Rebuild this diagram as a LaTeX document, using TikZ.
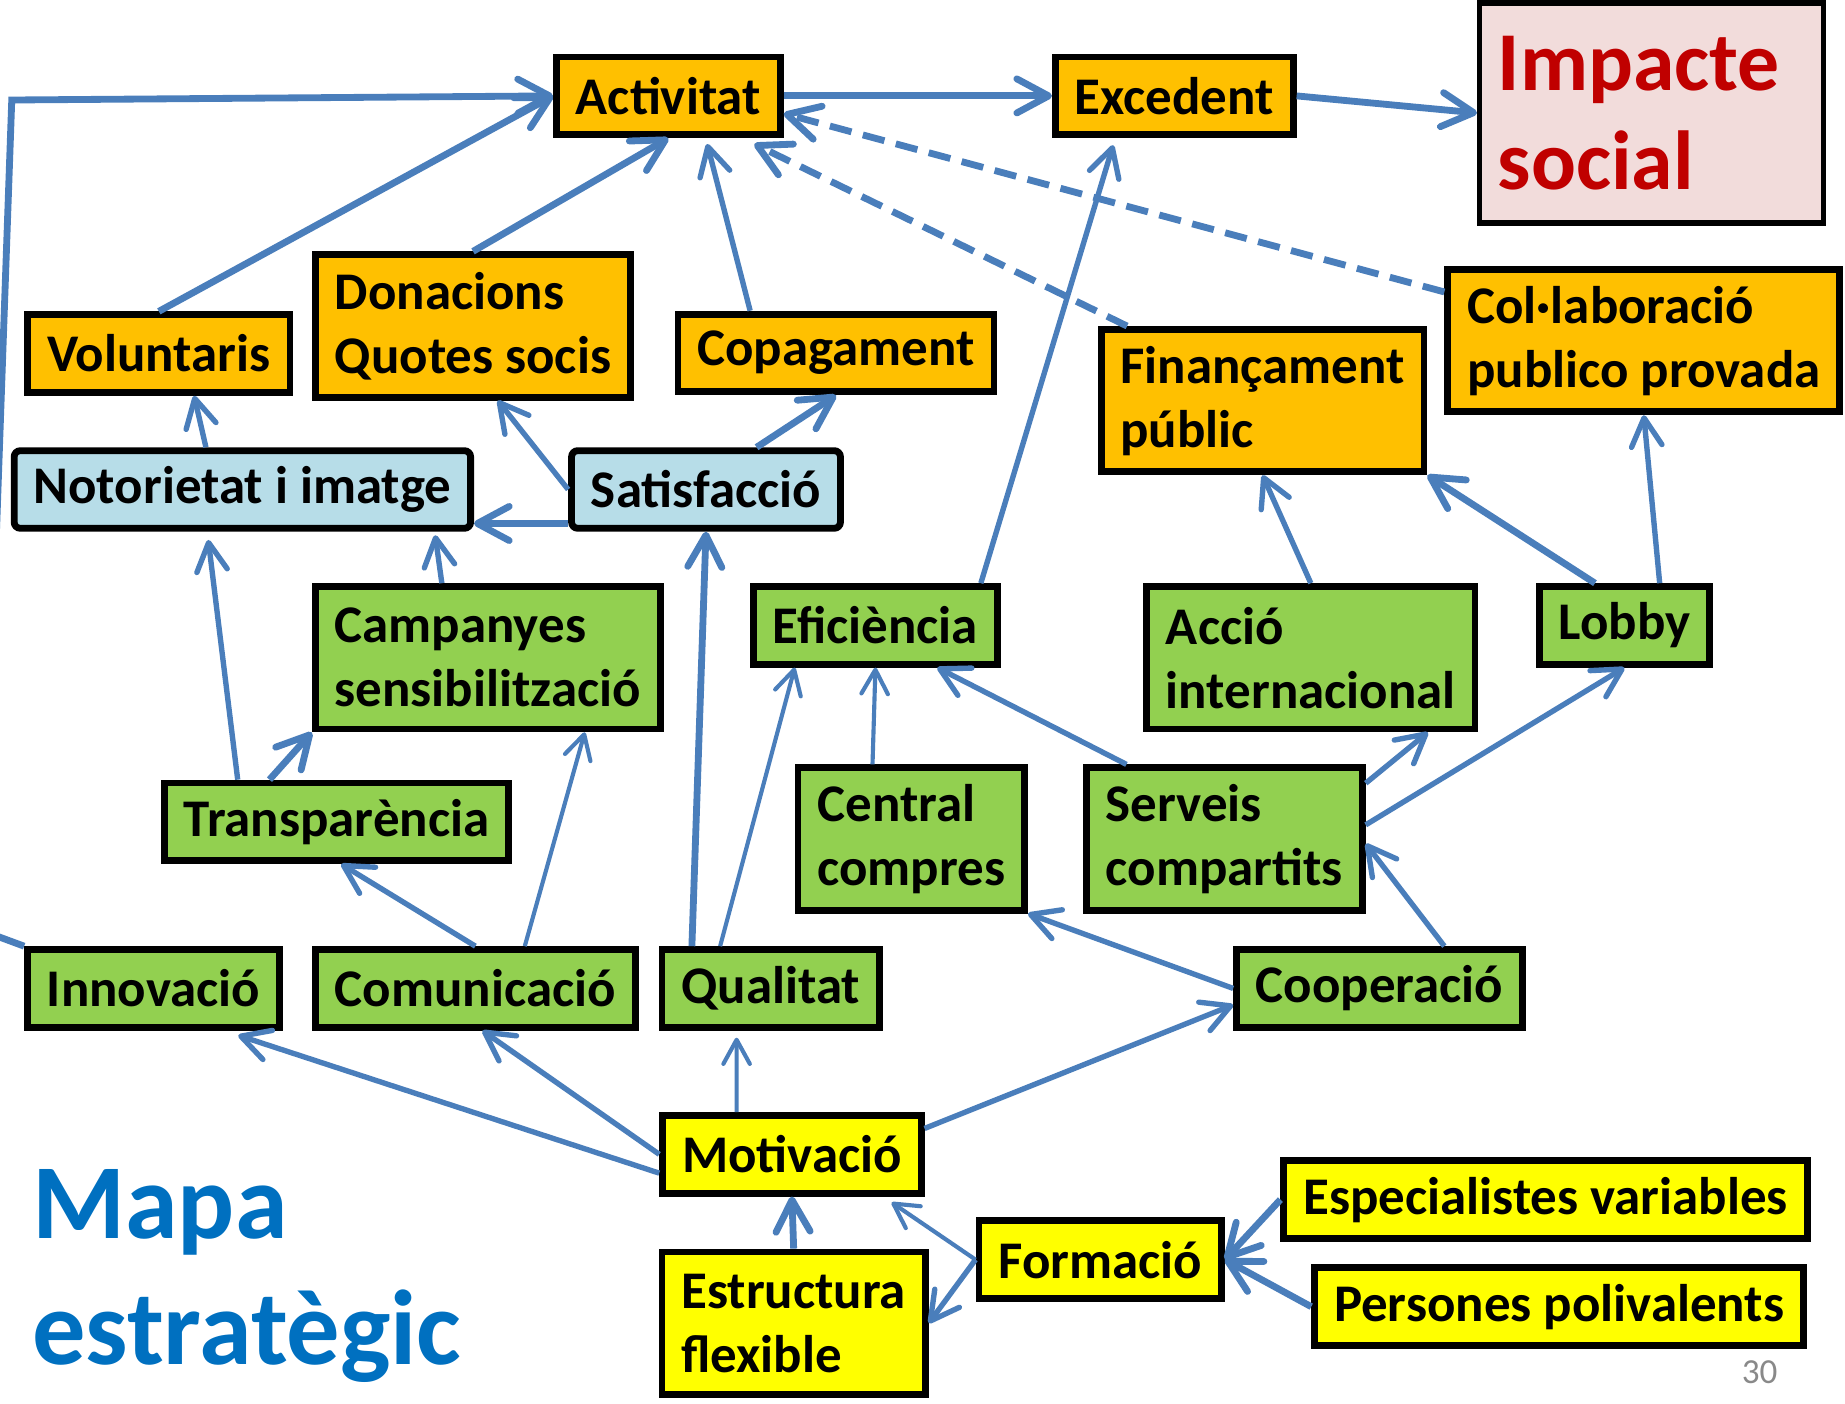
\documentclass[tikz,border=0pt]{standalone}
\usepackage{fontspec}
\setmainfont{Carlito}
\usetikzlibrary{arrows.meta, calc, positioning}

\definecolor{linkblue}{RGB}{74,126,187}
\definecolor{boxorange}{RGB}{255,192,0}
\definecolor{boxblue}{RGB}{183,221,232}
\definecolor{boxgreen}{RGB}{146,208,80}
\definecolor{boxyellow}{RGB}{255,255,0}
\definecolor{boxpink}{RGB}{242,220,219}
\definecolor{impactred}{RGB}{192,0,0}
\definecolor{titleblue}{RGB}{0,112,192}
\definecolor{pagegray}{RGB}{137,137,137}

\tikzset{
  box/.style={draw=black, line width=3.3pt, inner xsep=0.33cm, inner ysep=0.1cm,
    align=left, font=\fontsize{25.6}{31}\selectfont\bfseries, minimum height=1.32cm},
  twoline/.style={minimum height=2.42cm},
  resource/.style={box, fill=boxorange},
  perception/.style={box, fill=boxblue, rounded corners=3pt},
  process/.style={box, fill=boxgreen},
  people/.style={box, fill=boxyellow},
  impact/.style={draw=black, line width=2.6pt, fill=boxpink, text=impactred,
    font=\fontsize{40.5}{48}\selectfont\bfseries, align=left, text width=5.22cm,
    inner xsep=0.31cm, minimum height=3.74cm},
  biglink/.style={draw=linkblue, line width=3.3pt, -{Straight Barb[length=5.4mm,width=5.8mm,round]}},
  midlink/.style={draw=linkblue, line width=2.6pt, -{Straight Barb[length=4.8mm,width=5.2mm,round]}},
  thinlink/.style={draw=linkblue, line width=2pt, -{Straight Barb[length=4.1mm,width=4.5mm,round]}},
  dashlink/.style={dash pattern=on 0.38cm off 0.2cm}
}

\begin{document}
\begin{tikzpicture}[x=0.02cm, y=-0.02cm]
    \useasboundingbox (0,0) rectangle (1568,1193);

    % Result row
    \node[resource] (act) at (568,81.5) {Activitat};
    \node[resource] (exc) at (998,81.5) {Excedent};
    \node[impact] (imp) at (1403.5,96) {Impacte\\social};

    % Resources
    \node[resource] (vol) at (135,300.5) {Voluntaris};
    \node[resource, twoline] (don) at (402,277) {Donacions\\Quotes socis};
    \node[resource] (cop) at (710.5,300) {Copagament};
    \node[resource, twoline] (fin) at (1073,340.5) {Finançament\\públic};
    \node[resource, twoline] (col) at (1397,289.5) {Col·laboració\\publico provada};

    % Perception
    \node[perception] (not) at (206,416) {Notorietat i imatge};
    \node[perception] (sat) at (600,416) {Satisfacció};

    % Processes
    \node[process, twoline] (cam) at (414.5,559) {Campanyes\\sensibilització};
    \node[process] (efi) at (744,531.5) {Eficiència};
    \node[process, twoline] (acc) at (1114,559) {Acció\\internacional};
    \node[process] (lob) at (1380.5,531.5) {Lobby};
    \node[process] (tra) at (286,698.5) {Transparència};
    \node[process, twoline] (cen) at (774.5,713) {Central\\compres};
    \node[process, twoline] (ser) at (1040.5,713) {Serveis\\compartits};
    \node[process] (inn) at (130.5,840) {Innovació};
    \node[process] (com) at (404,840) {Comunicació};
    \node[process] (qua) at (655,840) {Qualitat};
    \node[process] (coo) at (1172.5,840) {Cooperació};

    % People
    \node[people] (mot) at (673,981) {Motivació};
    \node[people, twoline] (est) at (674.5,1124.5) {Estructura\\flexible};
    \node[people] (for) at (935,1070.5) {Formació};
    \node[people] (esp) at (1313.5,1019.5) {Especialistes variables};
    \node[people] (per) at (1325,1110.5) {Persones polivalents};

    % Title and page number
    \node[anchor=base west, align=left, inner sep=0, text=titleblue,
      font=\fontsize{51.5}{61}\selectfont\bfseries] (title) at (27,1160) {Mapa\\estratègic};
    \node[anchor=base east, inner sep=0, text=pagegray,
      font=\fontsize{17}{20}\selectfont] (page) at (1511,1176) {30};

    % Into Activitat
    \draw[biglink] (inn.north west) -- (-15,791) -- (10,85) -- (act.west);
    \draw[biglink] (vol.north) -- (act.west);
    \draw[biglink] (don.north) -- (act.south);
    \draw[midlink] ([xshift=-1.46cm]cop.north) -- ([xshift=0.66cm,yshift=-0.1cm]act.south);
    \draw[biglink, dashlink] ([xshift=0.5cm]fin.north west) -- ([xshift=-0.5cm,yshift=-0.1cm]act.south east);
    \draw[biglink, dashlink] ([yshift=-0.44cm]col.north west) -- ([yshift=-0.3cm]act.east);

    % Activitat, Excedent, Impacte
    \draw[biglink] (act) -- (exc);
    \draw[biglink] (exc.east) -- (imp.west);
    \draw[midlink] ([xshift=-0.34cm]efi.north east) -- ([xshift=-1.04cm,yshift=-0.12cm]exc.south);

    % Perception links
    \draw[midlink] ([xshift=-0.62cm]not.north) -- ([xshift=0.6cm]vol.south);
    \draw[midlink] (sat.west) -- ([xshift=0.42cm]don.south);
    \draw[biglink] ([yshift=0.14cm]sat.south west) -- ([yshift=0.14cm]not.south east);
    \draw[biglink] ([xshift=0.86cm]sat.north) -- (cop.south);

    % Process links
    \draw[midlink] ([xshift=-1.68cm]tra.north) -- ([xshift=-0.58cm,yshift=-0.14cm]not.south);
    \draw[biglink] ([xshift=-1.14cm]tra.north) -- (cam.south west);
    \draw[midlink] ([xshift=-0.78cm]cam.north) -- ([xshift=-0.66cm,yshift=-0.06cm]not.south east);
    \draw[midlink] (com.north) -- ([xshift=0.08cm]tra.south);
    \draw[thinlink] ([xshift=0.84cm]com.north) -- ([xshift=-1.34cm]cam.south east);
    \draw[biglink] ([xshift=-1.34cm]qua.north) -- (sat.south);
    \draw[thinlink] ([xshift=-0.86cm]qua.north) -- ([xshift=0.76cm]efi.south west);
    \draw[thinlink] ([xshift=-0.66cm]cen.north) -- (efi.south);
    \draw[midlink] ([xshift=0.74cm]ser.north west) -- ([xshift=-1.08cm]efi.south east);
    \draw[midlink] ([yshift=-0.32cm]ser.north east) -- ([xshift=-0.86cm]acc.south east);
    \draw[midlink] ([yshift=0.24cm]ser.east) -- (lob.south);
    \draw[midlink] ([xshift=1.1cm]coo.north) -- ([yshift=-0.08cm]ser.east);
    \draw[midlink] (coo.west) -- (cen.south east);
    \draw[midlink] (acc.north) -- (fin.south);
    \draw[biglink] ([xshift=-0.5cm]lob.north) -- (fin.south east);
    \draw[midlink] ([xshift=0.6cm]lob.north) -- (col.south);

    % From Motivació and Formació
    \draw[midlink] ([yshift=-0.32cm]mot.west) -- ([xshift=1.44cm,yshift=-0.08cm]inn.south);
    \draw[midlink] (mot.west) -- ([xshift=0.12cm]com.south);
    \draw[thinlink] ([xshift=-0.94cm]mot.north) -- ([xshift=-0.58cm,yshift=-0.12cm]qua.south);
    \draw[midlink] ([yshift=0.44cm]mot.east) -- ([yshift=-0.28cm]coo.west);
    \draw[biglink] (est.north) -- (mot.south);
    \draw[thinlink] (for.west) -- ([xshift=-0.56cm,yshift=-0.1cm]mot.south east);
    \draw[midlink] (for.west) -- (est.east);
    \draw[biglink] (esp.west) -- (for.east);
    \draw[biglink] (per.west) -- (for.east);
\end{tikzpicture}
\end{document}
